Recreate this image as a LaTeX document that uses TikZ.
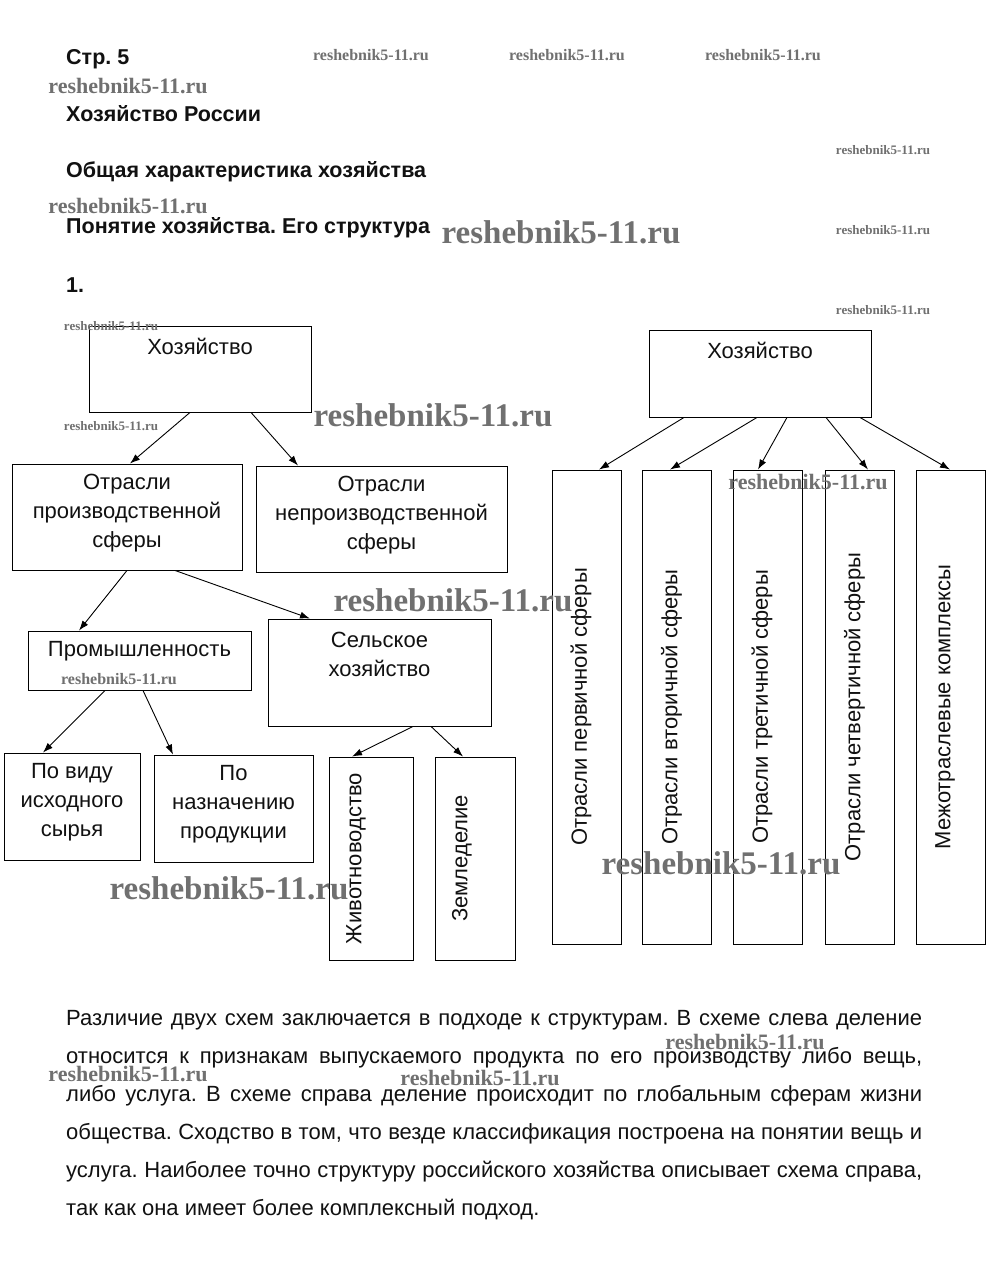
\documentclass[tikz,border=0pt]{standalone}
\usepackage{fontspec}
\setmainfont{Liberation Sans}
\newfontfamily\wmfont{Liberation Serif}
\usepackage{tikz}
\usetikzlibrary{calc,arrows.meta,positioning}
\frenchspacing
\definecolor{ink}{HTML}{111111}
\definecolor{wmgray}{HTML}{707070}
\tikzset{
  box/.style={draw=black, line width=0.9pt, inner sep=0pt},
  arr/.style={draw=black, line width=0.9pt, -{Latex[length=10pt,width=7pt]}},
  lab/.style={text=ink, inner sep=0pt, align=center, font=\fontsize{22}{29}\selectfont},
  head/.style={text=ink, inner sep=0pt, anchor=base west, font=\bfseries\fontsize{21.5}{26}\selectfont},
  para/.style={text=ink, inner sep=0pt, anchor=base west, font=\fontsize{22}{26}\selectfont},
  wm/.style={text=wmgray, inner sep=0pt, font=\wmfont\bfseries\fontsize{#1}{#1}\selectfont},
}

\begin{document}
\begin{tikzpicture}[x=1pt,y=-1pt]
\fill[white] (0,0) rectangle (999,1273);
\useasboundingbox (0,0) rectangle (999,1273);

% headings
\node[head] (h0) at (66,65) {Стр. 5};
\node[head] (h1) at (66,122) {Хозяйство России};
\node[head] (h2) at (66,178) {Общая характеристика хозяйства};
\node[head] (h3) at (66,234) {Понятие хозяйства. Его структура};
\node[head] (h4) at (66,292) {1.};

% left scheme
\node[box, minimum width=222, minimum height=86] (hozL) at (200,369) {};
\node[lab] (hozL-t) at ([yshift=-21]hozL.north) {Хозяйство};
\node[box, minimum width=230, minimum height=106] (otrP) at (127,517) {};
\node[lab] (otrP-t) at ([yshift=-50]otrP.north) {Отрасли\\производственной\\сферы};
\node[box, minimum width=251, minimum height=106] (otrN) at (381.5,519) {};
\node[lab] (otrN-t) at ([yshift=-50]otrN.north) {Отрасли\\непроизводственной\\сферы};
\node[box, minimum width=223, minimum height=59] (prom) at (139.5,660.5) {};
\node[lab] (prom-t) at ([yshift=-21]prom.north) {Промышленность};
\node[box, minimum width=223, minimum height=107] (selh) at (379.5,672.5) {};
\node[lab] (selh-t) at ([yshift=-35.5]selh.north) {Сельское\\хозяйство};
\node[box, minimum width=136, minimum height=107] (vid) at (72,806.5) {};
\node[lab] (vid-t) at ([yshift=-50]vid.north) {По виду\\исходного\\сырья};
\node[box, minimum width=159, minimum height=107] (naz) at (233.5,808.5) {};
\node[lab] (naz-t) at ([yshift=-50]naz.north) {По\\назначению\\продукции};
\node[box, minimum width=84, minimum height=203] (zhiv) at (371,858.5) {};
\node[lab, rotate=90] (zhiv-t) at ([xshift=-15]zhiv.center) {Животноводство};
\node[box, minimum width=80, minimum height=203] (zeml) at (475,858.5) {};
\node[lab, rotate=90] (zeml-t) at ([xshift=-13]zeml.center) {Земледелие};

\draw[arr] ([xshift=-10]hozL.south) -- ([xshift=3]otrP.north);
\draw[arr] ([xshift=51]hozL.south) -- ([xshift=-83.5]otrN.north);
\draw[arr] ([xshift=0]otrP.south) -- ([xshift=-60.5]prom.north);
\draw[arr] ([xshift=48]otrP.south) -- ([xshift=-69.5]selh.north);
\draw[arr] ([xshift=-34.5]prom.south) -- ([xshift=-29]vid.north);
\draw[arr] ([xshift=3.5]prom.south) -- ([xshift=-60.5]naz.north);
\draw[arr] ([xshift=33.5]selh.south) -- ([xshift=-19]zhiv.north);
\draw[arr] ([xshift=51.5]selh.south) -- ([xshift=-12]zeml.north);

% right scheme
\node[box, minimum width=222, minimum height=87] (hozR) at (760,373.5) {};
\node[lab] (hozR-t) at ([yshift=-21]hozR.north) {Хозяйство};
\foreach \x/\t/\s/\e [count=\i] in {
  586.5/{Отрасли первичной сферы}/-76/12.5,
  677/{Отрасли вторичной сферы}/-3/-7,
  767.5/{Отрасли третичной сферы}/27/-9.5,
  860/{Отрасли четвертичной сферы}/66/8,
  950.5/{Межотраслевые комплексы}/100/-0.5}{
  \node[box, minimum width=69, minimum height=474] (sf\i) at (\x,707) {};
  \node[lab, rotate=90] (sf\i-t) at ([xshift=-5.5]sf\i.center) {\t};
  \draw[arr] ([xshift=\s]hozR.south) -- ([xshift=\e]sf\i.north);
}

% conclusion
\node[para] (p1) at (66,1025) {\makebox[856pt][s]{Различие двух схем заключается в подходе к структурам. В схеме слева деление}};
\node[para] (p2) at (66,1063) {\makebox[856pt][s]{относится к признакам выпускаемого продукта по его производству либо вещь,}};
\node[para] (p3) at (66,1101) {\makebox[856pt][s]{либо услуга. В схеме справа деление происходит по глобальным сферам жизни}};
\node[para] (p4) at (66,1139) {\makebox[856pt][s]{общества. Сходство в том, что везде классификация построена на понятии вещь и}};
\node[para] (p5) at (66,1177) {\makebox[856pt][s]{услуга. Наиболее точно структуру российского хозяйства описывает схема справа,}};
\node[para] (p6) at (66,1215) {так как она имеет более комплексный подход.};

% watermarks
\foreach \x/\y/\s [count=\i] in {371/55/16, 567/55/16, 763/55/16, 128/86/22,
  883/150/13, 128/206/22, 561/232/33, 883/230/13, 883/310/13, 111/326/13,
  111/426/13, 433/415/33, 808/482/22, 453/600/33, 119/679/16, 229/888/33,
  721/863/33, 745/1042/22, 128/1074/22, 480/1078/22}{
  \node[wm=\s] (wm\i) at (\x,\y) {reshebnik5-11.ru};
}
\end{tikzpicture}
\end{document}
